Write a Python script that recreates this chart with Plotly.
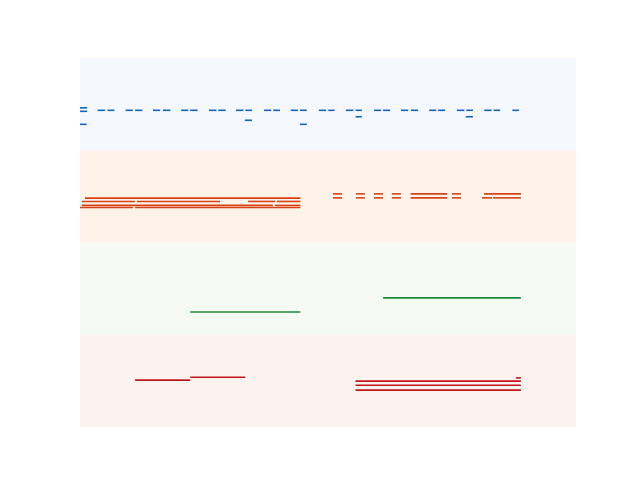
import plotly.graph_objects as go

# Track names (bottom to top) and colours
tracks = ["red", "green", "orange", "blue"]
line_colors = {"blue": "#1565c0", "orange": "#d84315", "green": "#1e8a3c", "red": "#c0161c"}
band_colors = {"blue": "#f5f9ff", "orange": "#fef3e8", "green": "#f5fbf3", "red": "#fdf3ee"}

# Segments: start, end, level within track (0..1)
blue_x0 = [0.00, 0.00, 0.00,
           0.64, 1.66, 2.65, 3.67, 4.68, 5.66, 6.68, 7.65, 8.67, 9.65, 10.67, 11.65, 12.67, 13.68, 14.67, 15.69,
           1.00, 2.00, 3.01, 4.00, 5.02, 6.00, 7.01, 7.98, 9.01, 10.00, 11.00, 12.01, 13.00, 14.02, 15.01,
           5.98, 7.98, 10.00, 14.00]
blue_x1 = [0.26, 0.26, 0.24,
           0.91, 1.92, 2.91, 3.93, 4.95, 5.93, 6.94, 7.91, 8.93, 9.92, 10.93, 11.91, 12.93, 13.95, 14.94, 15.93,
           1.25, 2.26, 3.28, 4.27, 5.29, 6.24, 7.26, 8.23, 9.24, 10.23, 11.25, 12.27, 13.25, 14.26, 15.25,
           6.24, 8.23, 10.23, 14.26]
blue_lvl = [0.460, 0.422, 0.281,
            0.433, 0.433, 0.433, 0.433, 0.433, 0.433, 0.433, 0.433, 0.433, 0.433, 0.433, 0.433, 0.433, 0.433, 0.433, 0.433,
            0.433, 0.433, 0.433, 0.433, 0.433, 0.433, 0.433, 0.433, 0.433, 0.433, 0.433, 0.433, 0.433, 0.433, 0.433,
            0.325, 0.281, 0.363, 0.363]

orange_x0 = [0.18, 0.07, 2.07, 6.10, 7.15, 0.07, 7.08, 0.00, 2.00,
             9.18, 10.02, 10.67, 11.32, 12.00, 13.50, 14.66,
             9.18, 10.02, 10.67, 11.32, 12.00, 13.50, 14.59, 14.99]
orange_x1 = [8.00, 2.00, 5.08, 7.08, 8.00, 7.00, 8.00, 1.92, 8.00,
             9.51, 10.34, 11.00, 11.65, 13.32, 13.83, 16.00,
             9.51, 10.34, 11.00, 11.65, 13.32, 13.83, 14.95, 16.00]
orange_lvl = [0.481, 0.445, 0.445, 0.445, 0.445, 0.402, 0.402, 0.380, 0.380,
              0.527, 0.527, 0.527, 0.527, 0.527, 0.527, 0.527,
              0.484, 0.484, 0.484, 0.484, 0.484, 0.484, 0.484, 0.484]

green_x0 = [4.00, 11.00]
green_x1 = [8.00, 16.00]
green_lvl = [0.246, 0.400]

red_x0 = [2.00, 4.00, 10.00, 10.00, 10.00, 15.82]
red_x1 = [4.00, 6.00, 16.00, 16.00, 16.00, 16.00]
red_lvl = [0.508, 0.540, 0.497, 0.453, 0.400, 0.532]

segments = {
    "blue": (blue_x0, blue_x1, blue_lvl),
    "orange": (orange_x0, orange_x1, orange_lvl),
    "green": (green_x0, green_x1, green_lvl),
    "red": (red_x0, red_x1, red_lvl),
}

x_range = [0, 18]

fig = go.Figure()
shapes = []
for i, name in enumerate(tracks):
    shapes.append(dict(type="rect", xref="x", yref="y", x0=x_range[0], x1=x_range[1],
                       y0=i, y1=i + 1, fillcolor=band_colors[name], line=dict(width=0), layer="below"))
    x0s, x1s, lvls = segments[name]
    xs, ys = [], []
    for a, b, l in zip(x0s, x1s, lvls):
        xs += [a, b, None]
        ys += [i + l, i + l, None]
    fig.add_trace(go.Scatter(x=xs, y=ys, mode="lines", line=dict(color=line_colors[name], width=1.6),
                             hoverinfo="skip", showlegend=False))

fig.update_layout(
    width=640, height=480,
    margin=dict(l=80, r=64, t=58, b=53),
    paper_bgcolor="white", plot_bgcolor="white",
    shapes=shapes,
    xaxis=dict(range=x_range, visible=False, fixedrange=True),
    yaxis=dict(range=[0, 4], visible=False, fixedrange=True),
    showlegend=False,
)
fig.write_html("out.html", config={"displayModeBar": False})
